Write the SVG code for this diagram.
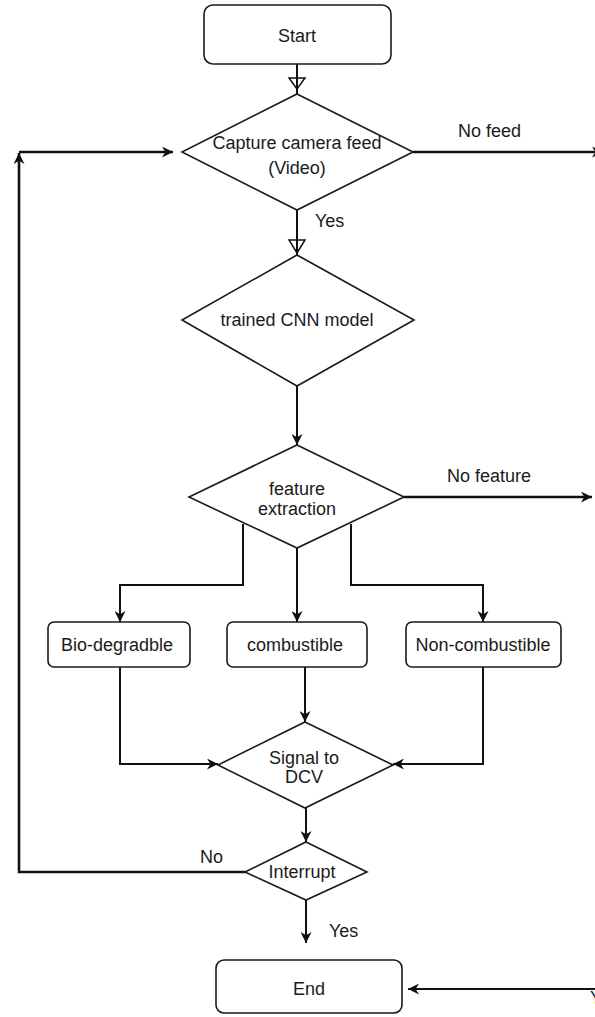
<svg xmlns="http://www.w3.org/2000/svg" width="595" height="1017" viewBox="0 0 595 1017">
<style>
.box{fill:#fff;stroke:#1a1a1a;stroke-width:1.6}
.dia{fill:#fff;stroke:#1a1a1a;stroke-width:1.6}
.t{font-family:"Liberation Sans",Arial,sans-serif;font-size:18px;fill:#1a1a1a;text-anchor:middle}
.l{font-family:"Liberation Sans",Arial,sans-serif;font-size:18px;fill:#1a1a1a}
.c{fill:none;stroke:#111;stroke-width:2}
.ct{fill:none;stroke:#111;stroke-width:2.6}
</style>
<defs>
<marker id="fa" viewBox="0 0 10 10" refX="10" refY="5" markerWidth="11" markerHeight="11" markerUnits="userSpaceOnUse" orient="auto">
<path d="M0,0 L10,5 L0,10 L3,5 Z" fill="#111"/>
</marker>
</defs>
<rect width="595" height="1017" fill="#fff"/>
<g id="connectors">
<path class="c" d="M297,64 V94"/>
<path d="M289,78 L305,78 L297,89 Z" fill="none" stroke="#111" stroke-width="1.5"/>
<path class="c" d="M297,210 V255"/>
<path d="M289,240 L305,240 L297,253 Z" fill="none" stroke="#111" stroke-width="1.5"/>
<path class="ct" d="M413,152 H603" marker-end="url(#fa)"/>
<path class="c" d="M297,386 V445" marker-end="url(#fa)"/>
<path class="ct" d="M404,497 H592" marker-end="url(#fa)"/>
<path class="c" d="M243,524 V585 H120 V622" marker-end="url(#fa)"/>
<path class="c" d="M297,548 V622" marker-end="url(#fa)"/>
<path class="c" d="M351,524 V585 H483 V622" marker-end="url(#fa)"/>
<path class="c" d="M120,667 V764 H218" marker-end="url(#fa)"/>
<path class="c" d="M305,667 V722" marker-end="url(#fa)"/>
<path class="c" d="M483,667 V764 H393" marker-end="url(#fa)"/>
<path class="c" d="M306,808 V842" marker-end="url(#fa)"/>
<path class="ct" d="M245,872 H19 V153" marker-end="url(#fa)"/>
<path class="ct" d="M19,152 H173" marker-end="url(#fa)"/>
<path class="c" d="M306,900 V943" marker-end="url(#fa)"/>
<path class="c" d="M595,989 H408" marker-end="url(#fa)"/>
<text class="l" x="458" y="137">No feed</text>
<text class="l" x="315" y="227">Yes</text>
<text class="l" x="447" y="482">No feature</text>
<text class="l" x="200" y="863">No</text>
<text class="l" x="329" y="937">Yes</text>
<text class="l" x="590" y="1004">Y</text>
</g>
<g id="start">
<rect class="box" x="204" y="5" width="187" height="59" rx="9"/>
<text class="t" x="297" y="42">Start</text>
</g>
<g id="capture">
<polygon class="dia" points="297,94 413,152 297,210 182,152"/>
<text class="t" x="297" y="149">Capture camera feed</text>
<text class="t" x="297" y="174">(Video)</text>
</g>
<g id="cnn">
<polygon class="dia" points="297,255 414,320 297,386 182,320"/>
<text class="t" x="297" y="326">trained CNN model</text>
</g>
<g id="feature">
<polygon class="dia" points="297,445 404,497 297,548 189,497"/>
<text class="t" x="297" y="495">feature</text>
<text class="t" x="297" y="515">extraction</text>
</g>
<g id="bio">
<rect class="box" x="48" y="622" width="142" height="45" rx="6"/>
<text class="t" x="117" y="651">Bio-degradble</text>
</g>
<g id="combustible">
<rect class="box" x="227" y="622" width="140" height="45" rx="6"/>
<text class="t" x="295" y="651">combustible</text>
</g>
<g id="noncombustible">
<rect class="box" x="406" y="622" width="155" height="45" rx="6"/>
<text class="t" x="483" y="651">Non-combustible</text>
</g>
<g id="signal">
<polygon class="dia" points="305,722 393,765 305,808 218,765"/>
<text class="t" x="304" y="764">Signal to</text>
<text class="t" x="304" y="783">DCV</text>
</g>
<g id="interrupt">
<polygon class="dia" points="306,842 367,872 306,900 245,872"/>
<text class="t" x="302" y="878">Interrupt</text>
</g>
<g id="end">
<rect class="box" x="216" y="960" width="186" height="53" rx="8"/>
<text class="t" x="309" y="995">End</text>
</g>
</svg>
